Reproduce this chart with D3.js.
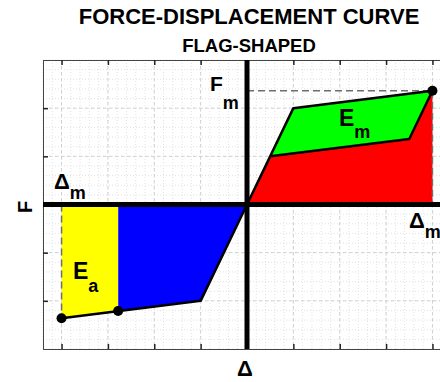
<!DOCTYPE html>
<html>
<head>
<meta charset="utf-8">
<script src="https://cdn.jsdelivr.net/npm/d3@7"></script>
<style>
  html, body { margin: 0; padding: 0; background: #fff; overflow: hidden; }
  svg { display: block; }
  text { font-family: "Liberation Sans", Arial, Helvetica, sans-serif; font-weight: bold; fill: #000; }
</style>
</head>
<body>
<svg id="chart" width="440" height="382"></svg>
<script>
// Flag-shaped hysteresis: loading envelope and unloading branch
const envelopeDisp  = [-4, -1, 0, 1, 4];
const envelopeForce = [-2.36, -2, 0, 2, 2.36];
const unloadDisp    = [4, 3.5, 0.5, 0];
const unloadForce   = [2.36, 1.36, 1.0, 0];

// Energy regions
const emDisp  = [0.5, 1, 4, 3.5];          // E_m (between loading and unloading)
const emForce = [1.0, 2, 2.36, 1.36];
const redDisp  = [0, 0.5, 3.5, 4, 4];      // recoverable part under unloading
const redForce = [0, 1.0, 1.36, 2.36, 0];
const blueDisp  = [0, -1, -2.78, -2.78];
const blueForce = [0, -2, -2.21, 0];
const eaDisp  = [-2.78, -2.78, -4, -4];     // E_a
const eaForce = [0, -2.21, -2.36, 0];

// Marked points
const markDisp  = [-4, -2.78, 4];
const markForce = [-2.36, -2.21, 2.36];

// Tick positions
const xTicks = [-4, -3, -2, -1, 0, 1, 2, 3, 4];
const yTicks = [-2, -1, 0, 1, 2];

const svg = d3.select("#chart");
const x = d3.scaleLinear().domain([-4.4, 4.4]).range([43, 451]);
const y = d3.scaleLinear().domain([-3, 3]).range([349, 60]);

const pts = (dx, fy) => dx.map((d, i) => [x(d), y(fy[i])]);
const line = d3.line();

// Minor and major dotted grid
const grid = svg.append("g");
const xMinor = d3.range(-4.4, 4.41, 0.2).map(v => +v.toFixed(2));
const yMinor = d3.range(-3, 3.01, 0.2).map(v => +v.toFixed(2));
grid.selectAll("line.xm").data(xMinor).join("line")
  .attr("x1", d => x(d)).attr("x2", d => x(d)).attr("y1", y(3)).attr("y2", y(-3))
  .attr("stroke", "#e2e2e2").attr("stroke-width", 1).attr("stroke-dasharray", "1,2");
grid.selectAll("line.ym").data(yMinor).join("line")
  .attr("y1", d => y(d)).attr("y2", d => y(d)).attr("x1", x(-4.4)).attr("x2", x(4.4))
  .attr("stroke", "#e2e2e2").attr("stroke-width", 1).attr("stroke-dasharray", "1,2");
grid.selectAll("line.xM").data(xTicks).join("line")
  .attr("x1", d => x(d)).attr("x2", d => x(d)).attr("y1", y(3)).attr("y2", y(-3))
  .attr("stroke", "#d0d0d0").attr("stroke-width", 1).attr("stroke-dasharray", "3,3");
grid.selectAll("line.yM").data(yTicks).join("line")
  .attr("y1", d => y(d)).attr("y2", d => y(d)).attr("x1", x(-4.4)).attr("x2", x(4.4))
  .attr("stroke", "#d0d0d0").attr("stroke-width", 1).attr("stroke-dasharray", "3,3");

// Frame with inward ticks
const frame = svg.append("g");
frame.append("g").attr("transform", `translate(0,${y(-3)})`)
  .call(d3.axisTop(x).tickValues(xTicks).tickSize(5).tickFormat(""));
frame.append("g").attr("transform", `translate(0,${y(3)})`)
  .call(d3.axisBottom(x).tickValues(xTicks).tickSize(5).tickFormat(""));
frame.append("g").attr("transform", `translate(${x(-4.4)},0)`)
  .call(d3.axisRight(y).tickValues(yTicks).tickSize(5).tickFormat(""));
frame.selectAll(".domain").attr("stroke", "#444").attr("stroke-width", 1);
frame.selectAll(".tick line").attr("stroke", "#222").attr("stroke-width", 1.5);

// Filled regions
svg.append("path").attr("d", line(pts(redDisp, redForce)) + "Z").attr("fill", "#ff0000");
svg.append("path").attr("d", line(pts(emDisp, emForce)) + "Z").attr("fill", "#00ff00");
svg.append("path").attr("d", line(pts(blueDisp, blueForce)) + "Z").attr("fill", "#0000ff");
svg.append("path").attr("d", line(pts(eaDisp, eaForce)) + "Z").attr("fill", "#ffff00");

// Dashed reference lines for Fm and Δm
const dash = svg.append("g").attr("stroke", "#6e6e6e").attr("stroke-width", 1.5)
  .attr("stroke-dasharray", "7,4").attr("fill", "none");
dash.append("line").attr("x1", x(0)).attr("x2", x(markDisp[2])).attr("y1", y(markForce[2])).attr("y2", y(markForce[2]));
dash.append("line").attr("x1", x(markDisp[2])).attr("x2", x(markDisp[2])).attr("y1", y(markForce[2])).attr("y2", y(0));
dash.append("line").attr("x1", x(markDisp[0])).attr("x2", x(markDisp[0])).attr("y1", y(0)).attr("y2", y(markForce[0]));

// Thick zero axes
svg.append("line").attr("x1", x(-4.4)).attr("x2", x(4.4)).attr("y1", y(0)).attr("y2", y(0))
  .attr("stroke", "#000").attr("stroke-width", 5);
svg.append("line").attr("x1", x(0)).attr("x2", x(0)).attr("y1", y(3)).attr("y2", y(-3))
  .attr("stroke", "#000").attr("stroke-width", 5);

// Force-displacement path
const curve = pts(envelopeDisp, envelopeForce).concat(pts(unloadDisp, unloadForce).slice(1));
svg.append("path").attr("d", line(curve)).attr("fill", "none")
  .attr("stroke", "#000").attr("stroke-width", 2.5).attr("stroke-linejoin", "round");

// Markers
svg.selectAll("circle.mk").data(markDisp).join("circle")
  .attr("cx", d => x(d)).attr("cy", (d, i) => y(markForce[i])).attr("r", 5).attr("fill", "#000");

// Titles
svg.append("text").attr("x", 249).attr("y", 24).attr("text-anchor", "middle")
  .attr("font-size", 22).text("FORCE-DISPLACEMENT CURVE");
svg.append("text").attr("x", 249).attr("y", 52).attr("text-anchor", "middle")
  .attr("font-size", 18.5).text("FLAG-SHAPED");

// Axis labels
svg.append("text").attr("x", x(0) - 2).attr("y", 376).attr("text-anchor", "middle")
  .attr("font-size", 22).text("Δ");
svg.append("text").attr("transform", "translate(32,207) rotate(-90)").attr("text-anchor", "middle")
  .attr("font-size", 20).text("F");

// Subscripted annotations
function label(px, py, main, sub, size, subSize, dy) {
  const t = svg.append("text").attr("x", px).attr("y", py).attr("font-size", size);
  t.append("tspan").text(main);
  t.append("tspan").attr("font-size", subSize).attr("dy", dy).text(sub);
}
label(210, 91, "F", "m", 21, 18, 18);
label(54, 189, "Δ", "m", 22, 18, 10);
label(409, 228, "Δ", "m", 22, 18, 10);
label(339, 126, "E", "m", 23, 18, 12);
label(73, 279, "E", "a", 23, 18, 13);
</script>
</body>
</html>
